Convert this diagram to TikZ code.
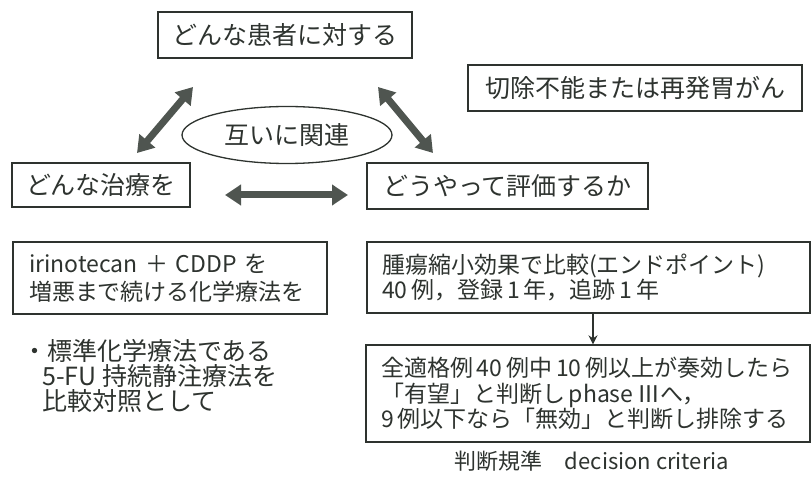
\documentclass[tikz,border=0pt]{standalone}
\usepackage{fontspec}
\setmainfont{Noto Sans CJK JP}
\usetikzlibrary{arrows.meta,shapes.geometric}
\definecolor{ink}{HTML}{2E332F}
\definecolor{arrowfill}{HTML}{4F5550}
\begin{document}
\begin{tikzpicture}[x=1pt,y=-1pt,
  box/.style={draw=ink, line width=1.3pt, inner sep=0pt, text=ink},
  big/.style={font=\fontsize{25}{28}\selectfont},
  small/.style={font=\fontsize{23}{25.5}\selectfont},
  fat/.style={draw=arrowfill, line width=7pt, {Triangle[length=16pt,width=20pt]}-{Triangle[length=16pt,width=20pt]}},
]
\useasboundingbox (0,0) rectangle (812,481);
\fill[white] (0,0) rectangle (812,481);

\node[box, big, minimum width=254pt, minimum height=46pt] (top) at (285,35) {どんな患者に対する};
\node[box, big, minimum width=334pt, minimum height=46pt] (cond) at (635,88) {切除不能または再発胃がん};
\node[box, big, minimum width=178pt, minimum height=44pt] (treat) at (101,185) {どんな治療を};
\node[box, big, minimum width=281pt, minimum height=46pt] (eval) at (507.5,186) {どうやって評価するか};
\node[draw=ink, line width=1.3pt, ellipse, big, minimum width=210pt, minimum height=57pt, inner sep=0pt, text=ink] (rel) at (287,135) {互いに関連};

\coordinate (l1) at (137,153); \coordinate (l2) at (193,87);
\coordinate (r1) at (378,87); \coordinate (r2) at (433,153);
\coordinate (h1) at (225,195); \coordinate (h2) at (348,195);
\draw[fat] (l1) -- (l2);
\draw[fat] (r1) -- (r2);
\draw[fat] (h1) -- (h2);

\node[box, font=\fontsize{23}{28}\selectfont, minimum width=314pt, minimum height=72pt, text width=282pt, align=left] (drug) at (170,278)
  {irinotecan ＋ CDDP を\\増悪まで続ける化学療法を};
\node[font=\fontsize{25}{25}\selectfont, anchor=north west, align=left, text=ink, inner sep=0pt] (ctrl) at (22,339)
  {・標準化学療法である\\\hspace*{0.8em}5-FU 持続静注療法を\\\hspace*{0.8em}比較対照として};

\node[box, small, minimum width=443pt, minimum height=71pt, text width=413pt, align=left] (end) at (588.5,277.5)
  {\mbox{腫瘍縮小効果で比較(エンドポイント)}\\\mbox{40\,例，登録\,1\,年，追跡\,1\,年}};
\node[box, small, minimum width=444pt, minimum height=97pt, text width=414pt, align=left] (crit) at (588,393.5)
  {\mbox{全適格例\,40\,例中\,10\,例以上が奏効したら}\\\mbox{「有望」と判断し\,phase\,Ⅲへ，}\\\mbox{9\,例以下なら「無効」と判断し排除する}};
\draw[ink, line width=1.6pt, -{Stealth[length=9pt,width=9pt]}] (end.south -| 593,0) -- (crit.north -| 593,0);

\node[font=\fontsize{22}{24}\selectfont, text=ink] (cap) at (592,461) {判断規準\hspace{1em}decision criteria};
\end{tikzpicture}
\end{document}
